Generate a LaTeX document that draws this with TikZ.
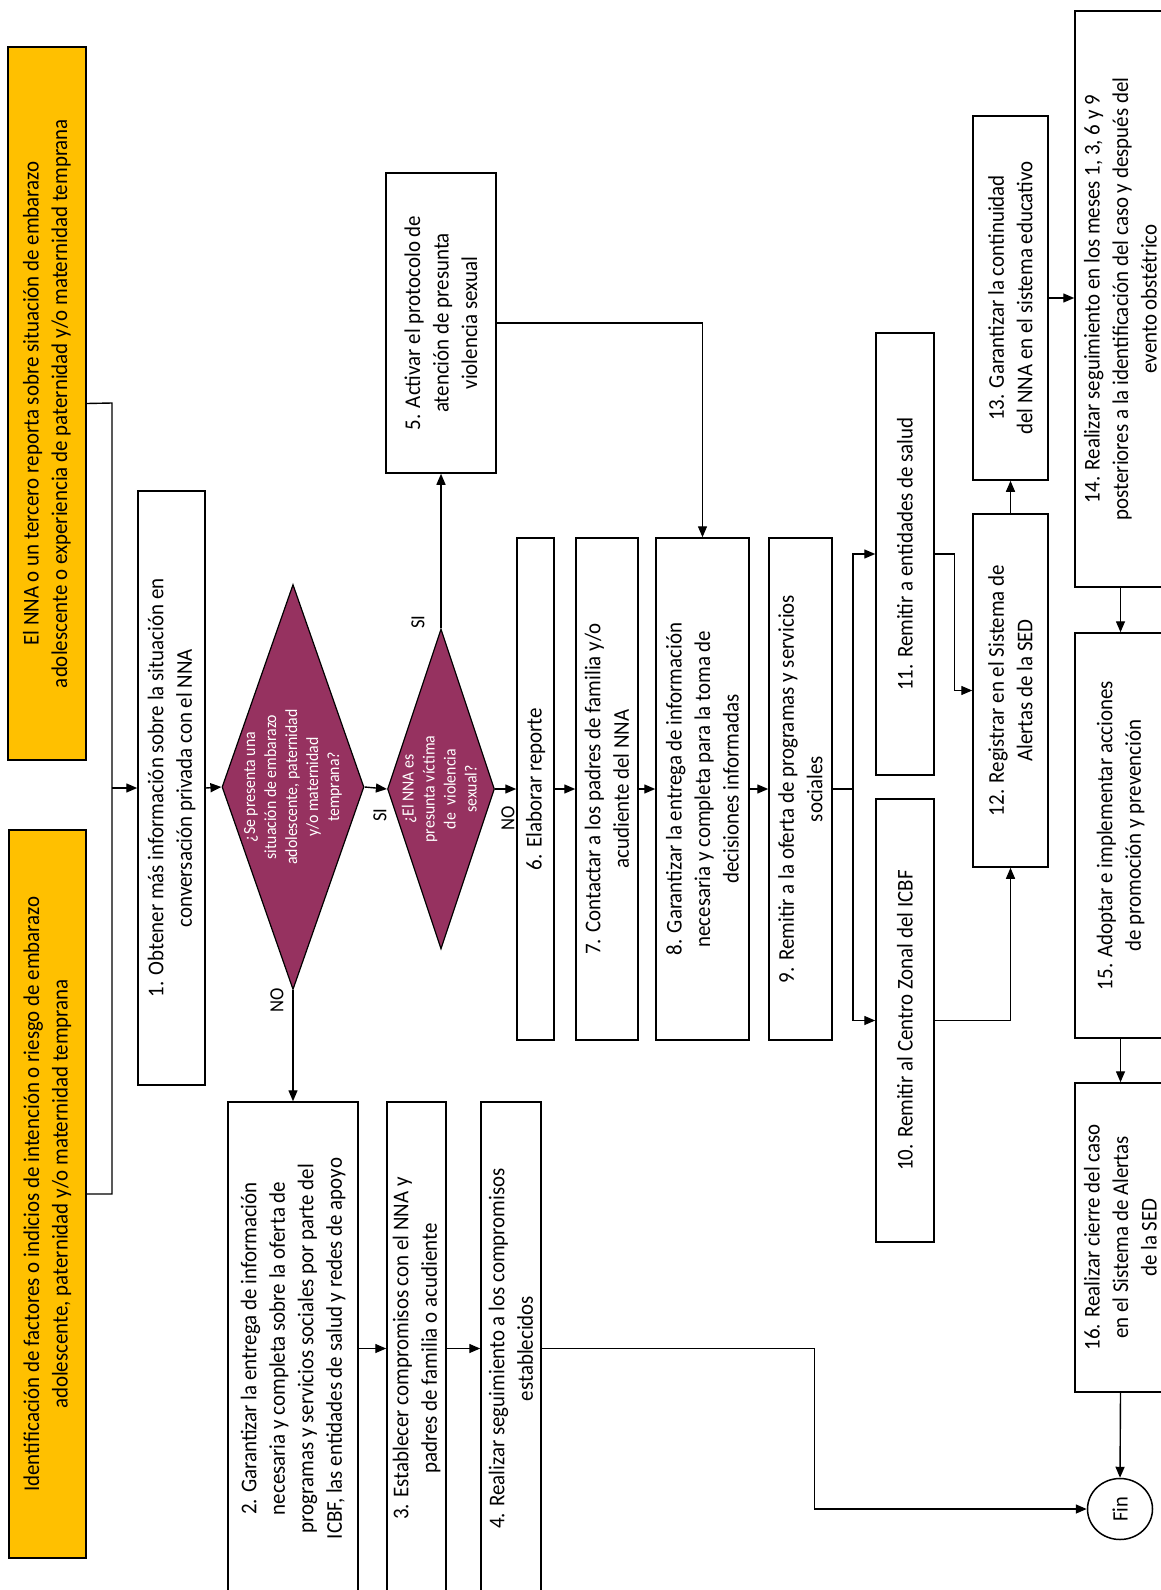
\documentclass[tikz,border=0pt]{standalone}
\usepackage{fontspec}
\setmainfont{Carlito}[FakeStretch=0.93]
\usetikzlibrary{shapes.geometric,arrows.meta,calc}
\definecolor{ygold}{RGB}{255,192,0}
\definecolor{dpurple}{RGB}{150,50,96}
\newcommand\mkbox[7][]{\node[box,#1, minimum width={#6-#4}, minimum height={#5-#3}] (#2) at ({(#3+#5)/2},{(#4+#6)/2}) {#7};}
\newcommand\dtext[1]{\raisebox{-0.25em}[0pt][0pt]{\makebox[0pt]{\begin{tabular}{@{}c@{}}#1\end{tabular}}}}
\begin{document}
\begin{tikzpicture}[x=1pt,y=-1pt,
  box/.style={draw, line width=1.5pt, rotate=90, align=center, inner sep=0pt, fill=white,
    font=\fontsize{22.5}{28.5}\selectfont},
  yel/.style={fill=ygold},
  dia/.style={diamond, draw, line width=1.2pt, fill=dpurple, text=white, rotate=90, inner sep=0pt,
    font=\fontsize{17}{21}\selectfont},
  finn/.style={ellipse, draw, line width=1.5pt, rotate=90, inner sep=0pt, font=\fontsize{22}{26}\selectfont},
  lbl/.style={rotate=90, inner sep=0pt, font=\fontsize{20}{24}\selectfont},
  ln/.style={line width=1.4pt},
  arr/.style={line width=1.4pt, -{Triangle[length=11pt,width=9pt]}}]
\useasboundingbox (0,0) rectangle (1161,1590);
\fill[white] (0,0) rectangle (1161,1590);

\mkbox[yel]{A}{8}{47}{86}{760}{El NNA o un tercero reporta sobre situación de embarazo\\adolescente o experiencia de paternidad y/o maternidad temprana}
\mkbox[yel]{B}{9}{830}{86}{1558}{Identificación de factores o indicios de intención o riesgo de embarazo\\adolescente, paternidad y/o maternidad temprana}
\mkbox{n1}{138}{491}{205}{1085}{1. Obtener más información sobre la situación en\\conversación privada con el NNA}
\node[dia, minimum width=405, minimum height=142] (d1) at (293,787) {\dtext{¿Se presenta una\\situación de embarazo\\adolescente, paternidad\\y/o maternidad\\temprana?}};
\node[dia, minimum width=320, minimum height=107] (d2) at (441,789) {\dtext{¿El NNA es\\presunta víctima\\de~ violencia\\sexual?}};
\mkbox{n5}{386}{173}{496}{473}{5. Activar el protocolo de\\atención de presunta\\violencia sexual}
\mkbox{n6}{517}{538}{554}{1040}{6. Elaborar reporte}
\mkbox{n7}{576}{538}{638}{1040}{7. Contactar a los padres de familia y/o\\acudiente del NNA}
\mkbox{n8}{656}{538}{749}{1040}{8. Garantizar la entrega de información\\necesaria y completa para la toma de\\decisiones informadas}
\mkbox{n9}{769}{538}{832}{1040}{9. Remitir a la oferta de programas y servicios\\sociales}
\mkbox{n11}{876}{333}{934}{775}{11. Remitir a entidades de salud}
\mkbox{n10}{876}{799}{934}{1242}{10. Remitir al Centro Zonal del ICBF}
\mkbox{n12}{973}{514}{1048}{867}{12. Registrar en el Sistema de\\Alertas de la SED}
\mkbox{n13}{973}{116}{1048}{480}{13. Garantizar la continuidad\\del NNA en el sistema educativo}
\mkbox{n14}{1075}{11}{1166}{587}{14. Realizar seguimiento en los meses 1, 3, 6 y 9\\posteriores a la identificación del caso y después del\\evento obstétrico}
\mkbox{n15}{1075}{633}{1166}{1038}{15. Adoptar e implementar acciones\\de promoción y prevención}
\mkbox{n16}{1075}{1083}{1166}{1392}{16. Realizar cierre del caso\\en el Sistema de Alertas\\de la SED}
\mkbox{n2}{228}{1102}{358}{1595}{2. Garantizar la entrega de información\\necesaria y completa sobre la oferta de\\programas y servicios sociales por parte del\\ICBF, las entidades de salud y redes de apoyo}
\mkbox{n3}{387}{1102}{446}{1595}{3. Establecer compromisos con el NNA y\\padres de familia o acudiente}
\mkbox{n4}{481}{1102}{541}{1595}{4. Realizar seguimiento a los compromisos\\establecidos}
\node[finn, minimum width=61, minimum height=65] (fin) at (1120,1509) {Fin};

\node[lbl] (lno1) at (277,1000) {NO};
\node[lbl] (lsi1) at (380,815) {SI};
\node[lbl] (lsi2) at (418,622) {SI};
\node[lbl] (lno2) at (508,818) {NO};

\coordinate (jA) at (112,403);
\coordinate (jB) at (112,1194);
\draw[ln] (A.south) -- (jA) -- (jB) -- (B.south);
\draw[arr] (n1.north -| jA) -- (n1.north);
\draw[arr] (n1.south) -- (d1.north);
\draw[arr] (d1.south) -- (d2.north);
\draw[arr] (d1.west) -- (d1.west |- n2.east);
\draw[arr] (d2.east) -- (n5.west);
\draw[arr] (d2.south) -- (n6.north);
\draw[arr] (n6.south) -- (n7.north);
\draw[arr] (n7.south) -- (n8.north);
\draw[arr] (n8.south) -- (n9.north);
\draw[arr] (n5.south) -| (n8.east);
\coordinate (s9) at (853,789);
\draw[ln] (n9.south) -- (s9);
\draw[arr] (s9) |- (n11.north);
\draw[arr] (s9) |- (n10.north);
\draw[arr] (n11.south) -- ++(20,0) |- (n12.north);
\draw[arr] (n10.south) -| (n12.west);
\draw[arr] (n12.east) -- (n13.west);
\draw[arr] (n13.south) -- (n13.south -| n14.north);
\draw[arr] (n14.west) -- (n15.east);
\draw[arr] (n15.west) -- (n16.east);
\draw[arr] (n16.west) -- (fin.east);
\draw[arr] (n2.south) -- (n3.north);
\draw[arr] (n3.south) -- (n4.north);
\draw[arr] (n4.south) -- ++(273,0) |- (fin.north);
\end{tikzpicture}
\end{document}
